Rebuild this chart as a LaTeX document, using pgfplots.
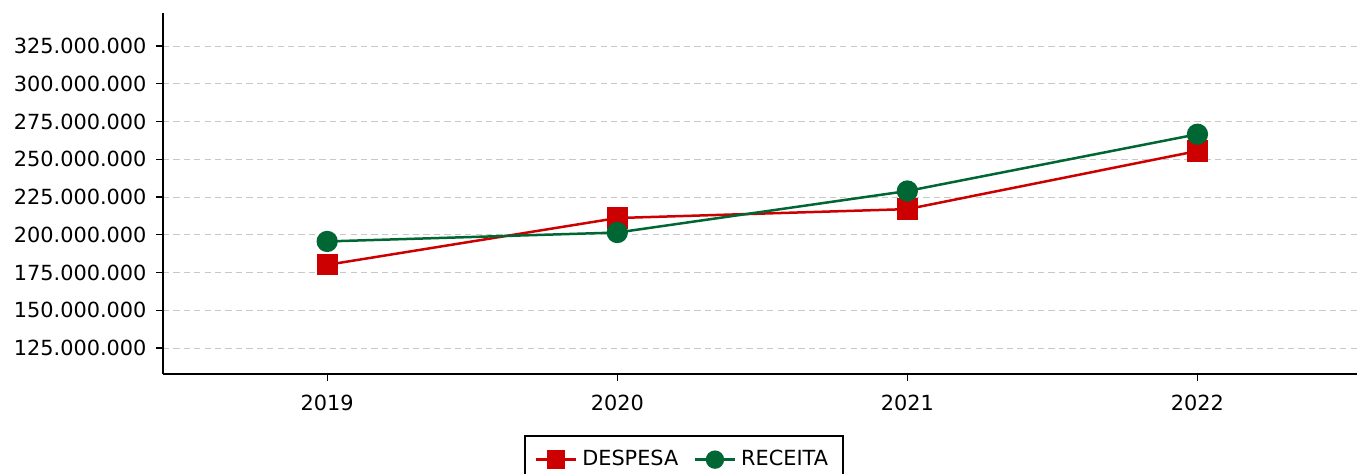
\documentclass[border=0pt]{standalone}
\usepackage{pgfplots}
\pgfplotsset{compat=1.18}
\usepackage{fontspec}
\setmainfont{DejaVu Sans}
\definecolor{dred}{HTML}{CC0000}
\definecolor{dgreen}{HTML}{006633}
\definecolor{gridc}{HTML}{C8C8C8}
\begin{document}
\begin{tikzpicture}[x=0.48pt,y=0.48pt]
\path[use as bounding box] (-163,-99) rectangle (1194,374);
\begin{axis}[
  at={(0pt,0pt)}, anchor=south west,
  scale only axis,
  width=573.12pt, height=173.28pt,
  xmin=2018.434, xmax=2022.55,
  ymin=107.8, ymax=346.9,
  axis x line*=bottom, axis y line*=left,
  axis line style={line width=0.6pt},
  xtick={2019,2020,2021,2022},
  xticklabels={2019,2020,2021,2022},
  ytick={125,150,175,200,225,250,275,300,325},
  yticklabels={125.000.000,150.000.000,175.000.000,200.000.000,225.000.000,250.000.000,275.000.000,300.000.000,325.000.000},
  tick align=outside, major tick length=3.4pt,
  tick style={line width=0.6pt, black},
  ymajorgrids, major grid style={dashed, gridc, line width=0.5pt, dash pattern=on 3pt off 2pt},
  tick label style={font=\fontsize{10}{12}\selectfont},
  xticklabel style={yshift=-3pt},
  yticklabel style={xshift=-1pt},
  clip=false,
  legend columns=2,
  legend style={at={(0.4363,-0.169)}, anchor=north, draw=black, line width=0.9pt,
    font=\fontsize{10}{12}\selectfont, inner xsep=4.8pt, inner ysep=4.5pt,
    /tikz/every even column/.append style={column sep=5pt},
    /tikz/every odd column/.append style={column sep=0pt},
    nodes={inner sep=2.4pt}},
  legend image code/.code={\draw[#1, line width=1.2pt, mark repeat=2, mark phase=2, mark size=3.8pt] plot coordinates {(0pt,0pt) (9.6pt,0pt) (19.2pt,0pt)};},
]
\addplot[dred, line width=1.2pt, mark=square*, mark size=4.5pt, mark options={solid}] coordinates {
(2019,180.1) (2020,211.1) (2021,217.0) (2022,255.5)};
\addlegendentry{DESPESA}
\addplot[dgreen, line width=1.2pt, mark=*, mark size=4.5pt, mark options={solid}] coordinates {
(2019,195.6) (2020,201.5) (2021,229.0) (2022,266.6)};
\addlegendentry{RECEITA}
\end{axis}
\end{tikzpicture}
\end{document}
